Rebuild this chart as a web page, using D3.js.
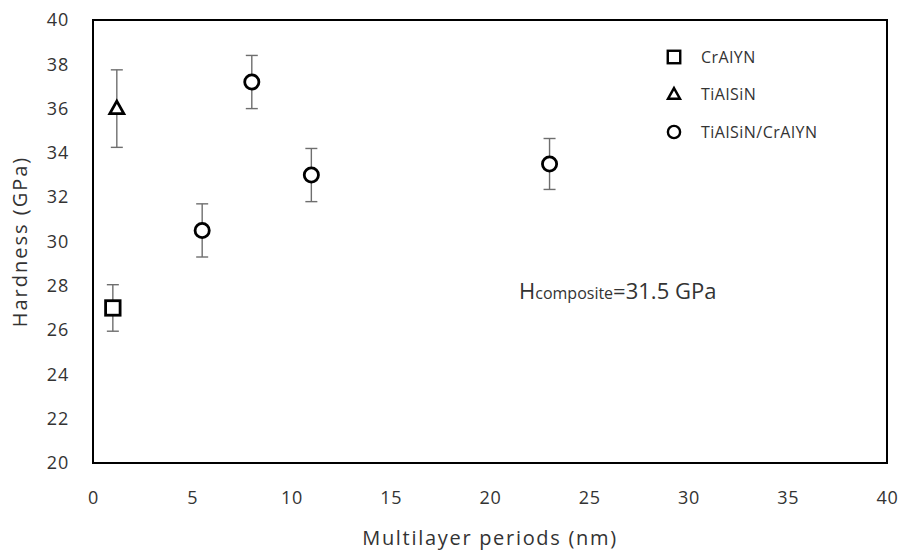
<!DOCTYPE html>
<html>
<head>
<meta charset="utf-8">
<script src="https://cdn.jsdelivr.net/npm/d3@7"></script>
<style>
  html, body { margin: 0; padding: 0; background: #fff; }
  svg { display: block; font-family: "Open Sans", "Noto Sans", sans-serif; }
</style>
</head>
<body>
<svg id="chart" width="902" height="550"></svg>
<script>
// Hardness vs multilayer period, with standard-deviation error bars
const seriesNames = ["CrAlYN", "TiAlSiN", "TiAlSiN/CrAlYN"];
const seriesShapes = ["square", "triangle", "circle"];

const crAlYNPeriod = [1];
const crAlYNHardness = [27.0];
const crAlYNError = [1.05];

const tiAlSiNPeriod = [1.2];
const tiAlSiNHardness = [36.0];
const tiAlSiNError = [1.75];

const multilayerPeriod = [5.5, 8, 11, 23];
const multilayerHardness = [30.5, 37.2, 33.0, 33.5];
const multilayerError = [1.2, 1.2, 1.2, 1.15];

const xTicks = [0, 5, 10, 15, 20, 25, 30, 35, 40];
const yTicks = [20, 22, 24, 26, 28, 30, 32, 34, 36, 38, 40];

const compositeHardness = 31.5;

const svg = d3.select("#chart");
const margin = { left: 93, top: 20, right: 15, bottom: 87 };
const W = 902, H = 550;

const x = d3.scaleLinear().domain([0, 40]).range([margin.left, W - margin.right]);
const y = d3.scaleLinear().domain([20, 40]).range([H - margin.bottom, margin.top]);

const textColor = "#333333";

// Axes (labels only, no tick marks)
const xAxis = svg.append("g")
  .attr("transform", `translate(0,${y(20)})`)
  .call(d3.axisBottom(x).tickValues(xTicks).tickSize(0).tickPadding(28));
const yAxis = svg.append("g")
  .attr("transform", `translate(${x(0)},0)`)
  .call(d3.axisLeft(y).tickValues(yTicks).tickSize(0).tickPadding(24));
[xAxis, yAxis].forEach(g => {
  g.select(".domain").remove();
  g.selectAll("text").attr("fill", textColor).style("font-size", "18px")
    .style("letter-spacing", "0.8px")
    .style("font-family", "'Open Sans', 'Noto Sans', sans-serif");
});

// Plot frame
svg.append("rect")
  .attr("x", x(0)).attr("y", y(40))
  .attr("width", x(40) - x(0)).attr("height", y(20) - y(40))
  .attr("fill", "none").attr("stroke", "#000").attr("stroke-width", 2);

// Axis titles
svg.append("text")
  .attr("x", (x(0) + x(40)) / 2).attr("y", 545)
  .attr("text-anchor", "middle").attr("fill", textColor)
  .style("font-size", "20px").style("letter-spacing", "1.7px")
  .text("Multilayer periods (nm)");
svg.append("text")
  .attr("transform", `translate(27,${(y(20) + y(40)) / 2}) rotate(-90)`)
  .attr("text-anchor", "middle").attr("fill", textColor)
  .style("font-size", "20px").style("letter-spacing", "2px")
  .text("Hardness (GPa)");

const series = [
  { name: seriesNames[0], shape: seriesShapes[0], px: crAlYNPeriod, hy: crAlYNHardness, err: crAlYNError },
  { name: seriesNames[1], shape: seriesShapes[1], px: tiAlSiNPeriod, hy: tiAlSiNHardness, err: tiAlSiNError },
  { name: seriesNames[2], shape: seriesShapes[2], px: multilayerPeriod, hy: multilayerHardness, err: multilayerError }
];

function drawMarker(g, shape, cx, cy, scale) {
  const s = scale || 1;
  if (shape === "square") {
    const a = 14.5 * s;
    g.append("rect").attr("x", cx - a / 2).attr("y", cy - a / 2)
      .attr("width", a).attr("height", a)
      .attr("fill", "#fff").attr("stroke", "#000").attr("stroke-width", 2.8 * s);
  } else if (shape === "triangle") {
    const h = 12.5 * s, w = 14 * s;
    g.append("path")
      .attr("d", `M${cx},${cy - h * 0.6}L${cx + w / 2},${cy + h * 0.4}L${cx - w / 2},${cy + h * 0.4}Z`)
      .attr("fill", "#fff").attr("stroke", "#000").attr("stroke-width", 2.8 * s)
      .attr("stroke-linejoin", "miter");
  } else {
    g.append("circle").attr("cx", cx).attr("cy", cy).attr("r", 7.1 * s)
      .attr("fill", "#fff").attr("stroke", "#000").attr("stroke-width", 2.8 * s);
  }
}

const marks = svg.append("g");
series.forEach(sr => {
  sr.px.forEach((p, i) => {
    const cx = x(p), v = sr.hy[i], e = sr.err[i];
    const eg = marks.append("g").attr("stroke", "#6e6e6e").attr("stroke-width", 1.4);
    eg.append("line").attr("x1", cx).attr("x2", cx).attr("y1", y(v + e)).attr("y2", y(v - e));
    [v + e, v - e].forEach(t => {
      eg.append("line").attr("x1", cx - 6).attr("x2", cx + 6).attr("y1", y(t)).attr("y2", y(t));
    });
  });
});
series.forEach(sr => {
  sr.px.forEach((p, i) => drawMarker(marks, sr.shape, x(p), y(sr.hy[i])));
});

// Legend
const legend = svg.append("g");
series.forEach((sr, i) => {
  const ly = 57 + i * 37.5;
  drawMarker(legend, sr.shape, 674, ly, 0.86);
  legend.append("text").attr("x", 701).attr("y", ly + 5.5)
    .attr("fill", textColor).style("font-size", "16px")
    .style("letter-spacing", "0.5px").text(sr.name);
});

// Composite hardness annotation
const ann = svg.append("text").attr("x", 519).attr("y", 299).attr("fill", textColor);
ann.append("tspan").style("font-size", "22px").text("H");
ann.append("tspan").style("font-size", "16px").text("composite");
ann.append("tspan").style("font-size", "22px").text("=" + compositeHardness + " GPa");
</script>
</body>
</html>
